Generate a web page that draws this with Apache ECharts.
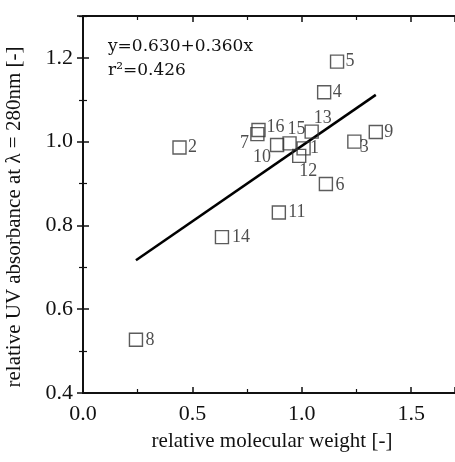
<!DOCTYPE html>
<html>
<head>
<meta charset="utf-8">
<script src="https://cdn.jsdelivr.net/npm/echarts@6/dist/echarts.min.js"></script>
<style>
  html, body { margin: 0; padding: 0; background: #fff; }
  #chart { width: 455px; height: 462px; }
</style>
</head>
<body>
<div id="chart"></div>
<script>
// sample numbers and their measured values
const sampleIds = ['1', '2', '3', '4', '5', '6', '7', '8', '9', '10', '11', '12', '13', '14', '15', '16'];
const molWeight = [1.008, 0.441, 1.240, 1.102, 1.161, 1.110, 0.797, 0.242, 1.338, 0.887, 0.895, 0.988, 1.045, 0.635, 0.944, 0.802];
const uvAbs = [0.984, 0.986, 1.000, 1.118, 1.191, 0.899, 1.018, 0.527, 1.023, 0.992, 0.831, 0.966, 1.024, 0.772, 0.996, 1.028];

// linear fit as printed on the chart
const fitIntercept = 0.630;
const fitSlope = 0.360;
const fitText = ['y=0.630+0.360x', 'r\u00b2=0.426'];

const xTicks = [0.0, 0.5, 1.0, 1.5];
const yTicks = [0.4, 0.6, 0.8, 1.0, 1.2];

const font = '"Liberation Serif", "DejaVu Serif", serif';

// label placement (label centre relative to square centre, px)
const labelOffset = {
  '1': [11, 0], '2': [13, 0], '3': [10, 6], '4': [13, 0], '5': [13, 0],
  '6': [14, 1], '7': [-13, 9], '8': [14, 0], '9': [13, 0], '10': [-15, 12],
  '11': [18, 0], '12': [9, 15], '13': [11, -13], '14': [19, 0], '15': [7, -14],
  '16': [17, -3]
};

let points = sampleIds.map((id, i) => ({
  value: [molWeight[i], uvAbs[i]],
  label: { offset: labelOffset[id] }
}));

let xMin = Math.min(...molWeight);
let xMax = Math.max(...molWeight);
let fitLine = [
  [xMin, fitIntercept + fitSlope * xMin],
  [xMax, fitIntercept + fitSlope * xMax]
];

let axisCommon = {
  axisLine: { lineStyle: { color: '#111', width: 2 } },
  axisTick: { inside: true, length: 6, lineStyle: { color: '#111', width: 1.5 } },
  minorTick: { show: true, splitNumber: 2, length: 4, lineStyle: { color: '#111', width: 1.2 } },
  splitLine: { show: false },
  minorSplitLine: { show: false }
};

let chart = echarts.init(document.getElementById('chart'));
chart.setOption({
  animation: false,
  backgroundColor: '#fff',
  grid: { left: 83, top: 16, width: 377, height: 377 },
  xAxis: [
    Object.assign({}, axisCommon, {
      type: 'value', position: 'bottom', min: 0, max: 1.7, interval: 0.5,
      axisLabel: {
        showMaxLabel: false, margin: 10, color: '#111', fontFamily: font, fontSize: 22,
        formatter: v => xTicks.includes(+v.toFixed(2)) ? v.toFixed(1) : ''
      }
    }),
    Object.assign({}, axisCommon, {
      type: 'value', position: 'top', min: 0, max: 1.7, interval: 0.5,
      axisLabel: { show: false }
    })
  ],
  yAxis: [
    Object.assign({}, axisCommon, {
      type: 'value', position: 'left', min: 0.4, max: 1.3, interval: 0.2,
      axisLabel: {
        showMaxLabel: false, margin: 10, color: '#111', fontFamily: font, fontSize: 22,
        padding: [10, 0, 0, 0],
        formatter: v => yTicks.includes(+v.toFixed(2)) ? v.toFixed(1) : ''
      }
    }),
    Object.assign({}, axisCommon, {
      type: 'value', position: 'right', min: 0.4, max: 1.3, interval: 0.2,
      axisLabel: { show: false }
    })
  ],
  series: [
    {
      type: 'line',
      data: fitLine,
      symbol: 'none',
      lineStyle: { color: '#000', width: 2.5 },
      z: 2
    },
    {
      type: 'scatter',
      data: points,
      symbol: 'rect',
      symbolSize: 13,
      itemStyle: { color: 'rgba(255,255,255,0)', borderColor: '#333', borderWidth: 1.4 },
      label: {
        show: true,
        position: ['50%', '50%'],
        align: 'center',
        verticalAlign: 'middle',
        formatter: p => sampleIds[p.dataIndex],
        color: '#222',
        fontFamily: font,
        fontSize: 18
      },
      z: 3
    }
  ],
  graphic: [
    {
      type: 'text', x: 108, y: 38,
      style: { text: fitText[0], font: '17px "DejaVu Serif", serif', fill: '#111' }
    },
    {
      type: 'text', x: 108, y: 62,
      style: { text: fitText[1], font: '17px "DejaVu Serif", serif', fill: '#111' }
    },
    {
      type: 'text', x: 272, y: 441,
      style: {
        text: 'relative molecular weight [-]', font: '21px ' + font, fill: '#111',
        align: 'center', verticalAlign: 'middle'
      }
    },
    {
      type: 'text', rotation: Math.PI / 2, x: 14, y: 217,
      style: {
        text: 'relative UV absorbance at \u03bb = 280nm [-]', font: '21px ' + font, fill: '#111',
        align: 'center', verticalAlign: 'middle'
      }
    }
  ]
});
</script>
</body>
</html>
